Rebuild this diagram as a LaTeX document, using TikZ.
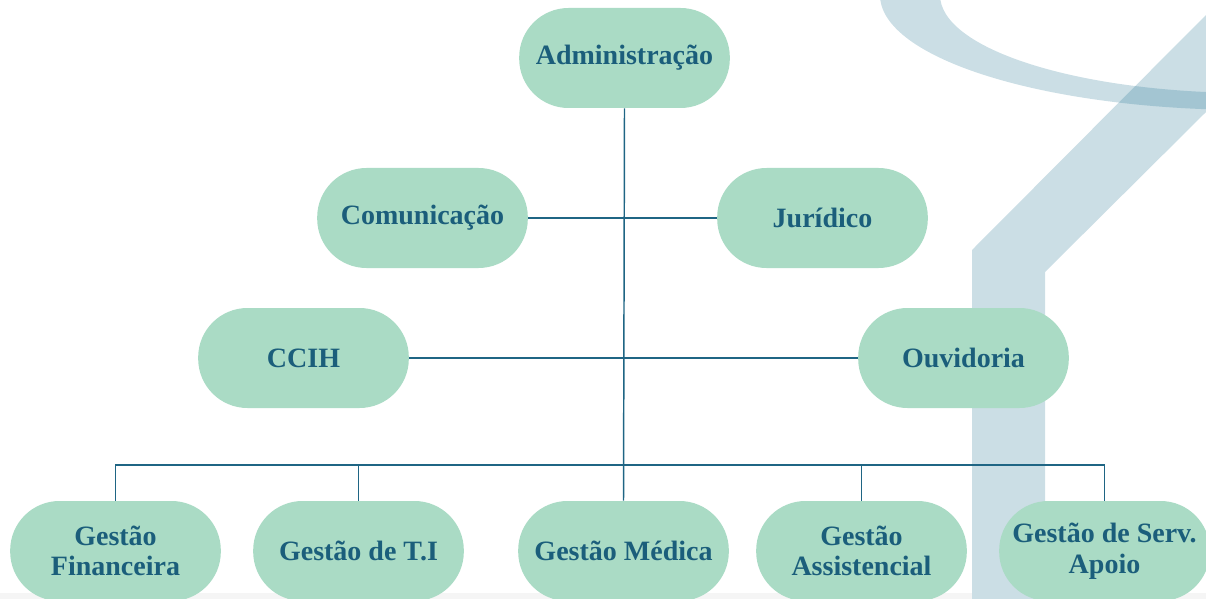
\documentclass[tikz,border=0pt]{standalone}
\usepackage{fontspec}
\setmainfont{Liberation Serif}
\definecolor{boxgreen}{HTML}{AADBC5}
\definecolor{textblue}{HTML}{1B5E7B}
\definecolor{linkblue}{HTML}{1F6584}
\definecolor{decoband}{HTML}{CBDEE5}
\definecolor{decodark}{HTML}{A3C5D2}
\tikzstyle{unit}=[rectangle,rounded corners=37pt,fill=boxgreen,text=textblue,minimum width=158pt,minimum height=75pt,inner sep=2pt,align=center,font=\fontsize{21}{23}\selectfont\bfseries]
\tikzstyle{link}=[draw=linkblue,line width=1.1pt]

\begin{document}
\begin{tikzpicture}[x=0.75pt,y=-0.75pt]
    \useasboundingbox (0,0) rectangle (1206,599);
    % background seven
    \fill[black!4!white] (0,593) rectangle (1206,599);
    \fill[decoband] (972,599) -- (972,250) -- (1206,15) -- (1206,112) -- (1045,272) -- (1045,599) -- cycle;
    \fill[decoband,even odd rule] (1250,-5) ellipse [x radius=370,y radius=115] (1250,-5) ellipse [x radius=310,y radius=98];
    \begin{scope}
        \clip (972,599) -- (972,250) -- (1206,15) -- (1206,112) -- (1045,272) -- (1045,599) -- cycle;
        \fill[decodark,even odd rule] (1250,-5) ellipse [x radius=370,y radius=115] (1250,-5) ellipse [x radius=310,y radius=98];
    \end{scope}

    \node[unit] (adm)  at (624.5,58)  {Administração};
    \node[unit] (com)  at (422.5,218) {Comunicação};
    \node[unit] (jur)  at (822.5,218) {Jurídico};
    \node[unit] (ccih) at (303.5,358) {CCIH};
    \node[unit] (ouv)  at (963.5,358) {Ouvidoria};
    \node[unit] (fin)  at (115.5,551) {Gestão\\Financeira};
    \node[unit] (ti)   at (358.5,551) {Gestão de T.I};
    \node[unit] (med)  at (623.5,551) {Gestão Médica};
    \node[unit] (ass)  at (861.5,551) {Gestão\\Assistencial};
    \node[unit] (apo)  at (1104.5,551) {Gestão de Serv.\\Apoio};

    \coordinate (bus) at (623.5,465);
    \draw[link] (adm.south) -- (med.north);
    \draw[link] (com.east) -- (jur.west);
    \draw[link] (ccih.east) -- (ouv.west);
    \draw[link] (fin.north) |- (bus) -| (apo.north);
    \foreach \n in {ti,ass}
    \draw[link] (\n.north) -- (\n.north |- bus);
\end{tikzpicture}
\end{document}
